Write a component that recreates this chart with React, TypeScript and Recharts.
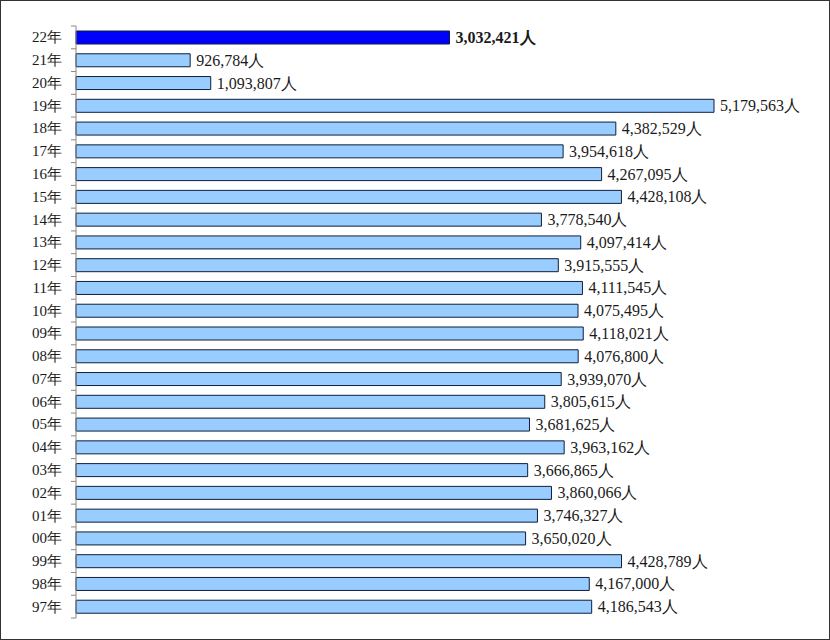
import { BarChart, Bar, XAxis, YAxis, Cell, LabelList } from "recharts"

const years = [
  "22年", "21年", "20年", "19年", "18年", "17年", "16年", "15年", "14年", "13年",
  "12年", "11年", "10年", "09年", "08年", "07年", "06年", "05年", "04年", "03年",
  "02年", "01年", "00年", "99年", "98年", "97年",
]

const visitors = [
  3032421, 926784, 1093807, 5179563, 4382529, 3954618, 4267095, 4428108, 3778540, 4097414,
  3915555, 4111545, 4075495, 4118021, 4076800, 3939070, 3805615, 3681625, 3963162, 3666865,
  3860066, 3746327, 3650020, 4428789, 4167000, 4186543,
]

const highlightYear = "22年"

const data = years.map((year, i) => ({ year, value: visitors[i] }))

const FONT = "'Liberation Serif', 'Times New Roman', serif"
const CHART_H = 640
const MARGIN_TOP = 26
const MARGIN_BOTTOM = 22
const STEP = (CHART_H - MARGIN_TOP - MARGIN_BOTTOM) / years.length

// tick text plus the little boundary marks between categories
function YearTick({ x, y, payload, index }: any) {
  const lx1 = x + 9
  const lx2 = x + 14
  return (
    <g>
      <text
        x={x}
        y={y}
        dy={5}
        textAnchor="end"
        fontSize={15}
        fontFamily={FONT}
        fill="#1a1a1a"
      >
        {payload.value}
      </text>
      <line x1={lx1} x2={lx2} y1={y - STEP / 2} y2={y - STEP / 2} stroke="#888" />
      {index === years.length - 1 && (
        <line x1={lx1} x2={lx2} y1={y + STEP / 2} y2={y + STEP / 2} stroke="#888" />
      )}
    </g>
  )
}

function ValueLabel({ x, y, width, height, value, index }: any) {
  const bold = years[index] === highlightYear
  return (
    <text
      x={x + width + 6}
      y={y + height / 2}
      dy={5.5}
      fontSize={16}
      fontFamily={FONT}
      fontWeight={bold ? "bold" : "normal"}
      fill="#1a1a1a"
    >
      {`${Number(value).toLocaleString("en-US")}人`}
    </text>
  )
}

export default function App() {
  return (
    <div
      style={{
        position: "fixed",
        left: 0,
        top: 0,
        width: 830,
        height: 640,
        border: "1px solid #333",
        boxSizing: "border-box",
        background: "#fff",
      }}
    >
      <div style={{ position: "absolute", left: -1, top: -1 }}>
        <BarChart
          width={830}
          height={CHART_H}
          data={data}
          layout="vertical"
          margin={{ top: MARGIN_TOP, right: 116, bottom: MARGIN_BOTTOM, left: 0 }}
          barSize={13}
        >
          <XAxis type="number" hide domain={[0, "dataMax"]} />
          <YAxis
            type="category"
            dataKey="year"
            width={76}
            interval={0}
            tickSize={5}
            tickMargin={9}
            tickLine={false}
            axisLine={{ stroke: "#888" }}
            tick={<YearTick />}
          />
          <Bar dataKey="value" stroke="#0d1f3c" strokeWidth={1} isAnimationActive={false}>
            {data.map((d) => (
              <Cell key={d.year} fill={d.year === highlightYear ? "#0000ff" : "#99ccff"} />
            ))}
            <LabelList dataKey="value" content={<ValueLabel />} />
          </Bar>
        </BarChart>
      </div>
    </div>
  )
}
